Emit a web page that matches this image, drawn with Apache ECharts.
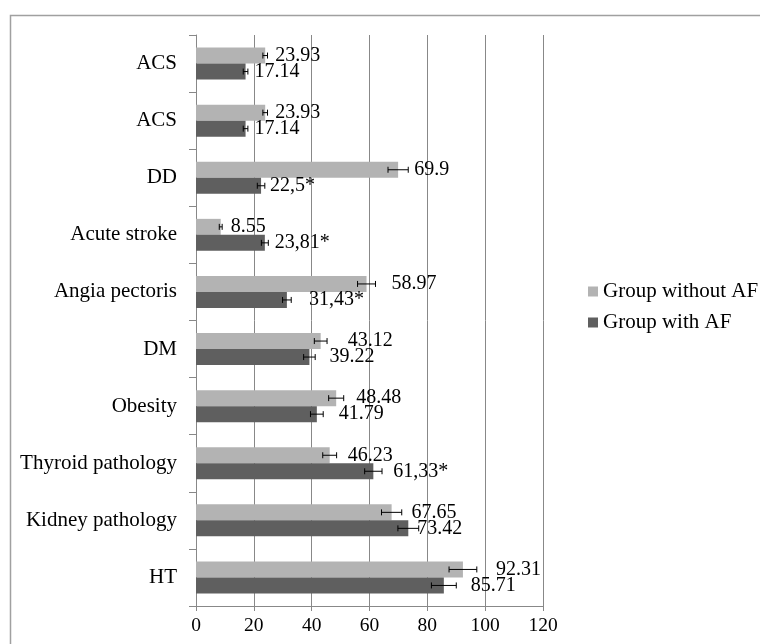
<!DOCTYPE html>
<html>
<head>
<meta charset="utf-8">
<script src="https://cdn.jsdelivr.net/npm/echarts@6/dist/echarts.min.js"></script>
<style>
html,body{margin:0;padding:0;background:#fff;}
#chart{width:760px;height:644px;}
</style>
</head>
<body>
<div id="chart"></div>
<script>
// categories listed bottom-to-top
var categories = ['HT', 'Kidney pathology', 'Thyroid pathology', 'Obesity', 'DM', 'Angia pectoris', 'Acute stroke', 'DD', 'ACS', 'ACS'];
var seriesNames = ['Group without AF', 'Group with AF'];
var withoutAF = [92.31, 67.65, 46.23, 48.48, 43.12, 58.97, 8.55, 69.9, 23.93, 23.93];
var withAF = [85.71, 73.42, 61.33, 41.79, 39.22, 31.43, 23.81, 22.5, 17.14, 17.14];
var withoutAFErr = [4.8, 3.5, 2.4, 2.6, 2.2, 3.1, 0.5, 3.5, 0.8, 0.8];
var withAFErr = [4.3, 3.6, 3.0, 2.2, 2.0, 1.5, 1.2, 1.3, 0.8, 0.8];
var withoutAFLabels = ['92.31', '67.65', '46.23', '48.48', '43.12', '58.97', '8.55', '69.9', '23.93', '23.93'];
var withAFLabels = ['85.71', '73.42', '61,33*', '41.79', '39.22', '31,43*', '23,81*', '22,5*', '17.14', '17.14'];
var xTicks = [0, 20, 40, 60, 80, 100, 120];

// label placement (style, px from bar end)
var withoutAFLabelDist = [33, 20, 18, 20, 27, 25, 10, 16, 10, 10];
var withAFLabelDist = [27, 9, 20, 22, 20, 22, 10, 9, 9, 9];

var FONT = '"Liberation Serif", "Times New Roman", serif';
var LIGHT = '#b3b3b3';
var DARK = '#5f5f5f';
var BARW = 16;

function barData(vals, labels, dists) {
  return vals.map(function (v, i) {
    return {
      value: v,
      label: { distance: dists[i], formatter: labels[i] }
    };
  });
}
function errData(vals, errs) {
  return vals.map(function (v, i) { return [v, i, errs[i]]; });
}
function errRender(shift) {
  return function (params, api) {
    var v = api.value(0), c = api.value(1), e = api.value(2);
    var lo = api.coord([v - e, c]);
    var hi = api.coord([v + e, c]);
    var y = lo[1] + shift;
    var cap = 3;
    var st = { stroke: '#000', lineWidth: 1 };
    return {
      type: 'group',
      children: [
        { type: 'line', shape: { x1: lo[0], y1: y, x2: hi[0], y2: y }, style: st },
        { type: 'line', shape: { x1: lo[0], y1: y - cap, x2: lo[0], y2: y + cap }, style: st },
        { type: 'line', shape: { x1: hi[0], y1: y - cap, x2: hi[0], y2: y + cap }, style: st }
      ]
    };
  };
}

var chart = echarts.init(document.getElementById('chart'), null, { renderer: 'canvas' });
var labelStyle = { show: true, position: 'right', fontFamily: FONT, fontSize: 20, color: '#000' };
chart.setOption({
  animation: false,
  backgroundColor: '#fff',
  graphic: [{
    type: 'rect',
    shape: { x: 10.5, y: 15.5, width: 780, height: 660 },
    style: { fill: null, stroke: '#a0a0a0', lineWidth: 1.5 },
    silent: true
  }],
  legend: {
    orient: 'vertical',
    left: 583,
    top: 276,
    itemWidth: 10,
    itemHeight: 10,
    itemGap: 10,
    icon: 'rect',
    data: seriesNames,
    textStyle: { fontFamily: FONT, fontSize: 21, color: '#000' }
  },
  grid: { left: 196, top: 35, width: 347, height: 571, containLabel: false },
  xAxis: {
    type: 'value',
    min: xTicks[0],
    max: xTicks[xTicks.length - 1],
    interval: xTicks[1] - xTicks[0],
    axisLine: { show: true, lineStyle: { color: '#888', width: 1 } },
    axisTick: { show: true, length: 5, lineStyle: { color: '#888' } },
    splitLine: { show: true, lineStyle: { color: '#888', width: 1 } },
    axisLabel: { fontFamily: FONT, fontSize: 19.5, color: '#000', margin: 10 }
  },
  yAxis: {
    type: 'category',
    data: categories,
    axisLine: { show: true, lineStyle: { color: '#888', width: 1 } },
    axisTick: { show: true, length: 7, lineStyle: { color: '#888' } },
    splitLine: { show: false },
    axisLabel: { fontFamily: FONT, fontSize: 21, color: '#000', margin: 19 }
  },
  series: [
    {
      name: seriesNames[0], type: 'bar', barWidth: BARW, barGap: '0%',
      itemStyle: { color: LIGHT },
      label: labelStyle,
      data: barData(withoutAF, withoutAFLabels, withoutAFLabelDist)
    },
    {
      name: seriesNames[1], type: 'bar', barWidth: BARW, barGap: '0%',
      itemStyle: { color: DARK },
      label: labelStyle,
      data: barData(withAF, withAFLabels, withAFLabelDist)
    },
    {
      type: 'custom', name: 'errWithout', z: 5,
      renderItem: errRender(-BARW / 2),
      encode: { x: 0, y: 1 },
      data: errData(withoutAF, withoutAFErr)
    },
    {
      type: 'custom', name: 'errWith', z: 5,
      renderItem: errRender(BARW / 2),
      encode: { x: 0, y: 1 },
      data: errData(withAF, withAFErr)
    }
  ]
});
</script>
</body>
</html>
